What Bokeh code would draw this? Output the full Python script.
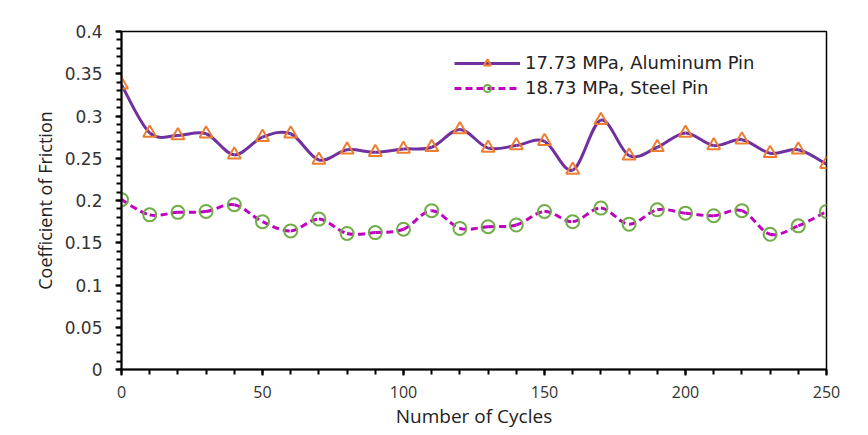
from bokeh.plotting import figure
from bokeh.models import (Range1d, SingleIntervalTicker, Legend, LegendItem,
                          ColumnDataSource, BasicTickFormatter)
from bokeh.embed import file_html
from bokeh.resources import INLINE

cycles = [0, 10, 20, 30, 40, 50, 60, 70, 80, 90, 100, 110, 120, 130, 140, 150,
          160, 170, 180, 190, 200, 210, 220, 230, 240, 250]
aluminum = [0.337, 0.280, 0.277, 0.279, 0.254, 0.275, 0.279, 0.248, 0.260, 0.257,
            0.261, 0.263, 0.284, 0.262, 0.265, 0.270, 0.236, 0.295, 0.253, 0.263,
            0.280, 0.265, 0.272, 0.256, 0.260, 0.243]
steel = [0.201, 0.183, 0.186, 0.187, 0.195, 0.175, 0.164, 0.178, 0.161, 0.162,
         0.166, 0.188, 0.167, 0.169, 0.171, 0.187, 0.175, 0.191, 0.172, 0.189,
         0.185, 0.182, 0.188, 0.160, 0.170, 0.187]
labels = ["17.73 MPa, Aluminum Pin", "18.73 MPa, Steel Pin"]

FONT = "Open Sans"
WIDE_FONT = "DejaVu Sans"


def smooth_segments(xs, ys):
    """Catmull-Rom style smoothing (as in spreadsheet 'smoothed line'),
    expressed as cubic Bezier control points for Bokeh's bezier glyph."""
    n = len(xs)
    d = dict(x0=[], y0=[], x1=[], y1=[], cx0=[], cy0=[], cx1=[], cy1=[])
    for i in range(n - 1):
        p0 = (xs[max(i - 1, 0)], ys[max(i - 1, 0)])
        p1 = (xs[i], ys[i])
        p2 = (xs[i + 1], ys[i + 1])
        p3 = (xs[min(i + 2, n - 1)], ys[min(i + 2, n - 1)])
        d["x0"].append(p1[0]); d["y0"].append(p1[1])
        d["x1"].append(p2[0]); d["y1"].append(p2[1])
        d["cx0"].append(p1[0] + (p2[0] - p0[0]) / 6.0)
        d["cy0"].append(p1[1] + (p2[1] - p0[1]) / 6.0)
        d["cx1"].append(p2[0] - (p3[0] - p1[0]) / 6.0)
        d["cy1"].append(p2[1] - (p3[1] - p1[1]) / 6.0)
    return ColumnDataSource(d)


p = figure(width=859, height=431, output_backend="svg", toolbar_location=None,
           x_range=Range1d(0, 250), y_range=Range1d(0, 0.4),
           min_border_left=121, min_border_right=33, min_border_top=31,
           min_border_bottom=60)

p.grid.visible = False
p.outline_line_color = "black"
p.outline_line_width = 1.5
p.background_fill_color = "white"
p.border_fill_color = "white"

# axes
p.xaxis.ticker = SingleIntervalTicker(interval=50, num_minor_ticks=5)
p.yaxis.ticker = SingleIntervalTicker(interval=0.05, num_minor_ticks=5)
p.yaxis.formatter = BasicTickFormatter(use_scientific=False)
for ax in (p.xaxis[0], p.yaxis[0]):
    ax.axis_line_color = "black"
    ax.axis_line_width = 2
    ax.major_tick_line_color = "black"
    ax.minor_tick_line_color = "black"
    ax.major_tick_line_width = 2
    ax.minor_tick_line_width = 2
    ax.major_tick_in = 0
    ax.major_tick_out = 6
    ax.minor_tick_in = 0
    ax.minor_tick_out = 5
    ax.major_label_text_color = "#333333"
    ax.axis_label_text_font = FONT
    ax.axis_label_text_font_style = "normal"
    ax.axis_label_text_color = "#222222"
p.xaxis.major_label_text_font = FONT
p.xaxis.major_label_text_font_size = "16px"
p.yaxis.major_label_text_font = WIDE_FONT
p.yaxis.major_label_text_font_size = "17px"
p.xaxis.axis_label = "Number of Cycles"
p.yaxis.axis_label = "Coefficient of Friction"
p.xaxis.axis_label_text_font_size = "19px"
p.yaxis.axis_label_text_font_size = "18px"
p.xaxis.major_label_standoff = 10
p.xaxis.axis_label_standoff = 2
p.yaxis.major_label_standoff = 13
p.yaxis.axis_label_standoff = 5

# series
src_al = smooth_segments(cycles, aluminum)
src_st = smooth_segments(cycles, steel)

r_al = p.bezier(x0="x0", y0="y0", x1="x1", y1="y1", cx0="cx0", cy0="cy0",
                cx1="cx1", cy1="cy1", source=src_al,
                line_color="#7030A0", line_width=3)
m_al = p.scatter(cycles, aluminum, marker="triangle", size=13,
                 line_color="#ED7D31", line_width=2, fill_color="white",
                 fill_alpha=0.0)

r_st = p.bezier(x0="x0", y0="y0", x1="x1", y1="y1", cx0="cx0", cy0="cy0",
                cx1="cx1", cy1="cy1", source=src_st,
                line_color="#C000C0", line_width=3, line_dash="7 4")
m_st = p.scatter(cycles, steel, marker="circle", size=13,
                 line_color="#70AD47", line_width=2, fill_color="white",
                 fill_alpha=0.0)

legend = Legend(items=[LegendItem(label=labels[0], renderers=[r_al, m_al]),
                       LegendItem(label=labels[1], renderers=[r_st, m_st])],
                location=(333, 271))
legend.label_text_font = WIDE_FONT
legend.label_text_font_size = "18px"
legend.label_text_color = "#222222"
legend.glyph_width = 66
legend.glyph_height = 18
legend.label_height = 18
legend.spacing = 4
legend.padding = 4
legend.border_line_color = None
legend.background_fill_alpha = 0.0
p.add_layout(legend)

open("out.html", "w").write(file_html(p, INLINE))
